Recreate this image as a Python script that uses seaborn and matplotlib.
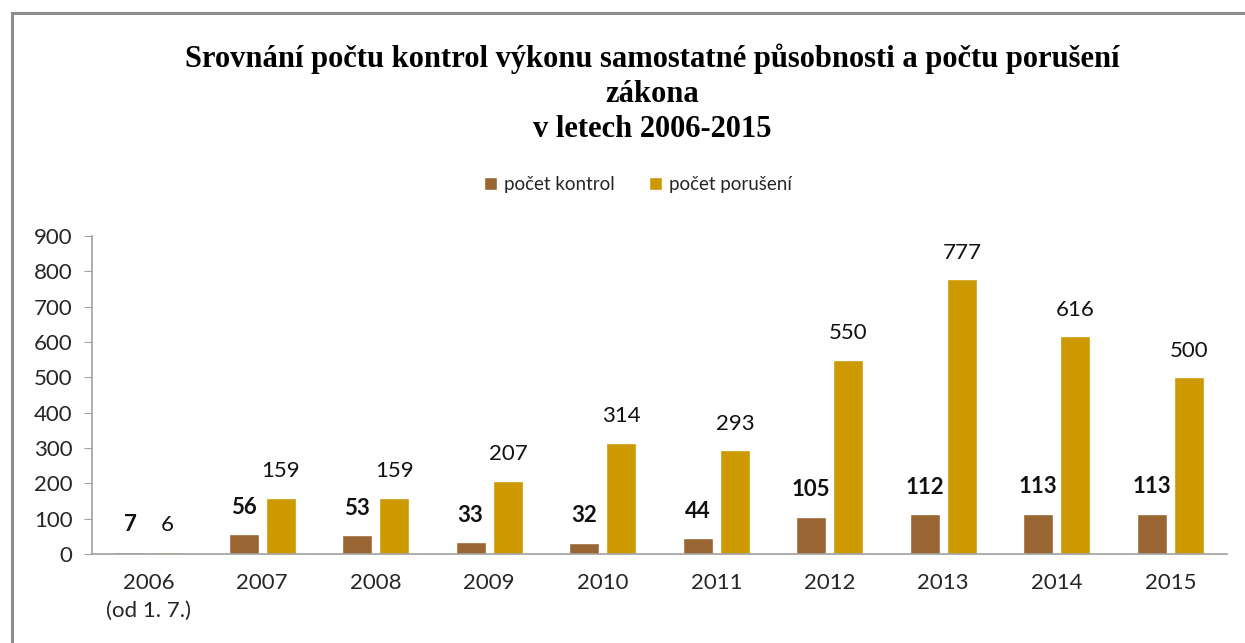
import numpy as np
import pandas as pd
import matplotlib
matplotlib.use("Agg")
import matplotlib.pyplot as plt
import seaborn as sns
from matplotlib.patches import Rectangle

# data
years = ['2006\n(od 1. 7.)', '2007', '2008', '2009', '2010',
         '2011', '2012', '2013', '2014', '2015']
kontroly = [7, 56, 53, 33, 32, 44, 105, 112, 113, 113]
poruseni = [6, 159, 159, 207, 314, 293, 550, 777, 616, 500]
series = ['počet kontrol', 'počet porušení']
colors = ['#996633', '#CC9900']

df = pd.DataFrame({
    'rok': years * 2,
    'pocet': kontroly + poruseni,
    'serie': [series[0]] * len(years) + [series[1]] * len(years),
})

sns.set_style('white')
plt.rcParams['font.family'] = ['Lato', 'DejaVu Sans']

fig = plt.figure(figsize=(12.45, 6.43), dpi=100)
ax = fig.add_axes([92 / 1245, 1 - 554 / 643, (1227 - 92) / 1245, (554 - 236) / 643])

sns.barplot(data=df, x='rok', y='pocet', hue='serie', palette=colors,
            width=0.66, gap=0.2, saturation=1, ax=ax, legend=True)

# value labels: first series bold, second normal
for cont, weight in zip(ax.containers, ['bold', 'normal']):
    ax.bar_label(cont, padding=12, fontsize=16, fontweight=weight, color='#111111')

ax.set_ylim(0, 900)
ax.set_xlim(-0.5, len(years) - 0.5)
ax.set_yticks(range(0, 901, 100))
ax.set_xlabel('')
ax.set_ylabel('')
ax.tick_params(axis='y', labelsize=16, length=6, color='#A0A0A0', pad=8, direction='out', left=True)
ax.tick_params(axis='x', labelsize=16, length=0, pad=14)
for lab in ax.get_xticklabels():
    lab.set_linespacing(1.45)
    lab.set_verticalalignment('top')
for s in ['top', 'right']:
    ax.spines[s].set_visible(False)
for s in ['left', 'bottom']:
    ax.spines[s].set_color('#A0A0A0')
    ax.spines[s].set_linewidth(1.2)

# legend above plot
handles, labels = ax.get_legend_handles_labels()
ax.legend_.remove()
fig.legend(handles, labels, loc='center', bbox_to_anchor=(638 / 1245, 1 - 185 / 643),
           ncol=2, frameon=False, fontsize=13.5, handlelength=0.7, handleheight=0.7,
           handletextpad=0.4, columnspacing=1.8)

fig.text(652 / 1245, 1 - 94 / 643,
         'Srovnání počtu kontrol výkonu samostatné působnosti a počtu porušení\nzákona\nv letech 2006-2015',
         ha='center', va='center', fontsize=22, fontweight='bold', color='black',
         family=['Liberation Serif', 'DejaVu Serif'], linespacing=1.27)

# outer frame of the chart area
fig.patches.append(Rectangle((12 / 1245, -0.1), 1.2, 1 - 13 / 643 + 0.1,
                             transform=fig.transFigure, fill=False,
                             edgecolor='#8C8C8C', linewidth=2.2))

fig.savefig('out.png', dpi=100)
